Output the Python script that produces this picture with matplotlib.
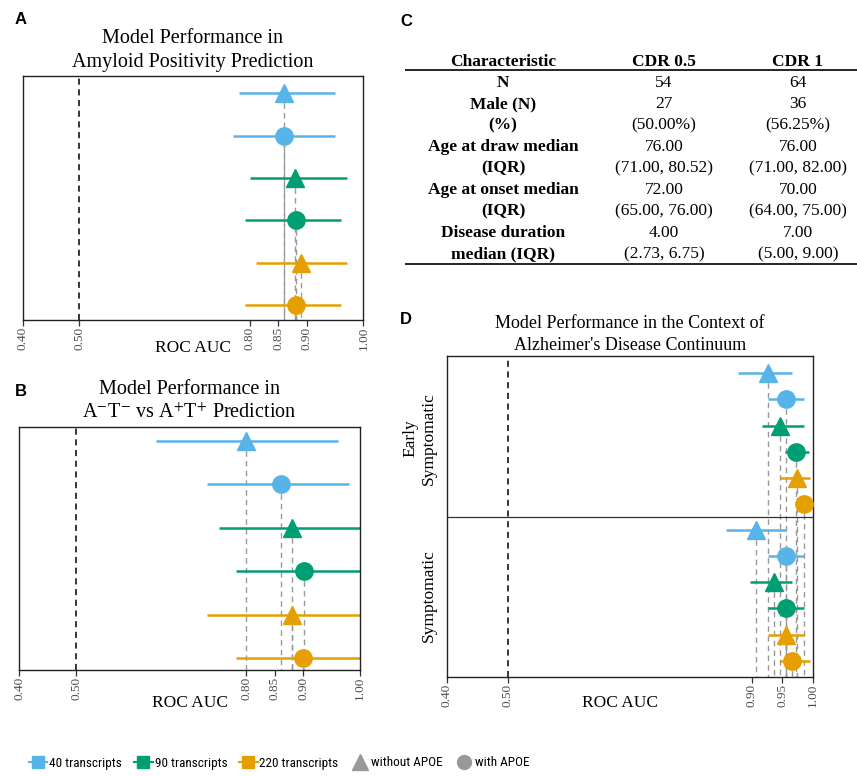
import matplotlib
matplotlib.use("Agg")
import matplotlib.pyplot as plt
from matplotlib.lines import Line2D

plt.rcParams["font.family"] = ["Liberation Serif", "DejaVu Serif"]
plt.rcParams["mathtext.fontset"] = "stix"

C_40 = "#56B4E9"
C_90 = "#009E73"
C_220 = "#E69F00"
C_GREY = "#999999"
SANS = ["Liberation Sans Narrow", "Roboto Condensed", "Arial Narrow",
        "Liberation Sans", "DejaVu Sans"]

# rows top -> bottom: 40 w/o, 40 with, 90 w/o, 90 with, 220 w/o, 220 with
row_colors = [C_40, C_40, C_90, C_90, C_220, C_220]
row_markers = ["^", "o", "^", "o", "^", "o"]

# A: amyloid positivity
a_auc = [0.861, 0.861, 0.880, 0.882, 0.891, 0.882]
a_lo = [0.781, 0.771, 0.801, 0.791, 0.811, 0.791]
a_hi = [0.951, 0.951, 0.971, 0.961, 0.971, 0.961]

# B: A-T- vs A+T+ (upper CI clipped at 1)
b_auc = [0.800, 0.861, 0.881, 0.901, 0.881, 0.900]
b_lo = [0.641, 0.731, 0.751, 0.781, 0.731, 0.781]
b_hi = [0.961, 0.981, 1.02, 1.02, 1.02, 1.02]

# D: AD continuum
d_groups = ["Early\nSymptomatic", "Symptomatic"]
d_auc_early = [0.926, 0.956, 0.946, 0.973, 0.975, 0.986]
d_lo_early = [0.878, 0.927, 0.917, 0.955, 0.946, 0.975]
d_hi_early = [0.966, 0.986, 0.986, 0.994, 0.996, 0.996]
d_auc_symp = [0.907, 0.956, 0.936, 0.956, 0.956, 0.966]
d_lo_symp = [0.858, 0.927, 0.897, 0.927, 0.927, 0.946]
d_hi_symp = [0.956, 0.986, 0.966, 0.986, 0.986, 0.996]

# C: table
tab_header = ["Characteristic", "CDR 0.5", "CDR 1"]
tab_char = ["N", "Male (N)", "(%)", "Age at draw median", "(IQR)",
            "Age at onset median", "(IQR)", "Disease duration", "median (IQR)"]
tab_cdr05 = ["54", "27", "(50.00%)", "76.00", "(71.00, 80.52)", "72.00",
             "(65.00, 76.00)", "4.00", "(2.73, 6.75)"]
tab_cdr1 = ["64", "36", "(56.25%)", "76.00", "(71.00, 82.00)", "70.00",
            "(64.00, 75.00)", "7.00", "(5.00, 9.00)"]

x_ticks_ab = [0.40, 0.50, 0.80, 0.85, 0.90, 1.00]
x_ticks_d = [0.40, 0.50, 0.90, 0.95, 1.00]

W, H = 857, 776
fig = plt.figure(figsize=(W / 100, H / 100), dpi=100)


def box(l, t, r, b):
    return [l / W, 1 - b / H, (r - l) / W, (b - t) / H]


def forest(ax, auc, lo, hi, colors, markers, ylim):
    rows = list(range(1, len(auc) + 1))
    ax.set_xlim(0.4, 1.0)
    ax.set_ylim(*ylim)
    ax.axvline(0.5, color="black", ls=(0, (4, 3)), lw=1.1, zorder=1)
    ax.vlines(auc, rows, ylim[0], colors=C_GREY, linestyles=(0, (4, 3)),
              lw=1.0, zorder=1)
    ax.hlines(rows, lo, hi, colors=colors, lw=1.8, zorder=2)
    for x, y, c, m in zip(auc, rows, colors, markers):
        ax.plot(x, y, marker=m, color=c, ms=12.5 if m == "o" else 13,
                ls="none", zorder=3)
    for s in ax.spines.values():
        s.set_linewidth(1.0)
        s.set_color("#222222")
    ax.tick_params(axis="x", length=4, width=0.9, color="#333333",
                   labelsize=9.5, labelcolor="#4D4D4D", labelrotation=90, pad=1)


# ---- A
ax_a = fig.add_axes(box(22.7, 76.3, 363.3, 320))
forest(ax_a, a_auc, a_lo, a_hi, row_colors, row_markers, (6.35, 0.60))
ax_a.set_xticks(x_ticks_ab, [f"{v:.2f}" for v in x_ticks_ab])
ax_a.set_yticks([])
ax_a.set_title("Model Performance in\nAmyloid Positivity Prediction",
               fontsize=14.5, pad=7, linespacing=1.35)
ax_a.text(0.5, -0.115, "ROC AUC", transform=ax_a.transAxes, ha="center",
          va="center", fontsize=12.5)

# ---- B
ax_b = fig.add_axes(box(19.3, 426.7, 360, 670))
forest(ax_b, b_auc, b_lo, b_hi, row_colors, row_markers, (6.27, 0.68))
ax_b.set_xticks(x_ticks_ab, [f"{v:.2f}" for v in x_ticks_ab])
ax_b.set_yticks([])
ax_b.set_title("Model Performance in\n"
               r"A$^{-}$T$^{-}$ vs A$^{+}$T$^{+}$ Prediction",
               fontsize=14.5, pad=6, linespacing=1.35)
ax_b.text(0.5, -0.136, "ROC AUC", transform=ax_b.transAxes, ha="center",
          va="center", fontsize=12.5)

# ---- D
ax_d = fig.add_axes(box(446.7, 356, 812.7, 676.7))
forest(ax_d, d_auc_early + d_auc_symp, d_lo_early + d_lo_symp,
       d_hi_early + d_hi_symp, row_colors * 2, row_markers * 2, (12.61, 0.34))
ax_d.axhline(6.5, color="#333333", lw=0.9, zorder=2)
ax_d.set_xticks(x_ticks_d, [f"{v:.2f}" for v in x_ticks_d])
ax_d.set_yticks([3.5, 9.5], d_groups)
ax_d.tick_params(axis="y", length=0, pad=7, labelsize=12.5)
for lab in ax_d.get_yticklabels():
    lab.set_rotation(90)
    lab.set_va("center")
    lab.set_multialignment("center")
ax_d.set_title("Model Performance in the Context of\nAlzheimer's Disease Continuum",
               fontsize=13, pad=4.5, linespacing=1.4)
ax_d.text(0.473, -0.081, "ROC AUC", transform=ax_d.transAxes, ha="center",
          va="center", fontsize=12.5)

# ---- C table
ax_c = fig.add_axes(box(405, 50, 857, 270))
ax_c.set_xlim(0, 1)
ax_c.set_ylim(8.75, -1.53)
ax_c.axis("off")
col_x = [0.217, 0.573, 0.869]
for x, h in zip(col_x, tab_header):
    ax_c.text(x, -0.97, h, ha="center", va="center", fontsize=12.5,
              fontweight="bold")
ax_c.axhline(-0.59, color="black", lw=1.2)
ax_c.axhline(8.47, color="black", lw=1.2)
for i, (c0, c1, c2) in enumerate(zip(tab_char, tab_cdr05, tab_cdr1)):
    ax_c.text(col_x[0], i, c0, ha="center", va="center", fontsize=12.5,
              fontweight="bold")
    ax_c.text(col_x[1], i, c1, ha="center", va="center", fontsize=12.5)
    ax_c.text(col_x[2], i, c2, ha="center", va="center", fontsize=12.5)

# ---- panel letters
for lab, x, y in [("A", 21, 19), ("B", 21, 392), ("C", 406, 21), ("D", 406, 319)]:
    fig.text(x / W, 1 - y / H, lab, ha="center", va="center", fontsize=12,
             fontweight="bold", family=["Liberation Sans", "DejaVu Sans"])

# ---- legend
handles = [
    Line2D([], [], color=C_40, marker="s", ms=8, lw=1.5, label="40 transcripts"),
    Line2D([], [], color=C_90, marker="s", ms=8, lw=1.5, label="90 transcripts"),
    Line2D([], [], color=C_220, marker="s", ms=8, lw=1.5, label="220 transcripts"),
    Line2D([], [], color=C_GREY, marker="^", ms=12, ls="none", label="without APOE"),
    Line2D([], [], color=C_GREY, marker="o", ms=10, ls="none", label="with APOE"),
]
fig.legend(handles=handles, loc="center left", bbox_to_anchor=(29 / W, 1 - 763 / H),
           ncol=5, frameon=False, prop={"family": SANS, "size": 9.5},
           handlelength=1.4, handletextpad=0.15, columnspacing=0.9,
           borderaxespad=0, borderpad=0)

fig.savefig("out.png", dpi=100)
